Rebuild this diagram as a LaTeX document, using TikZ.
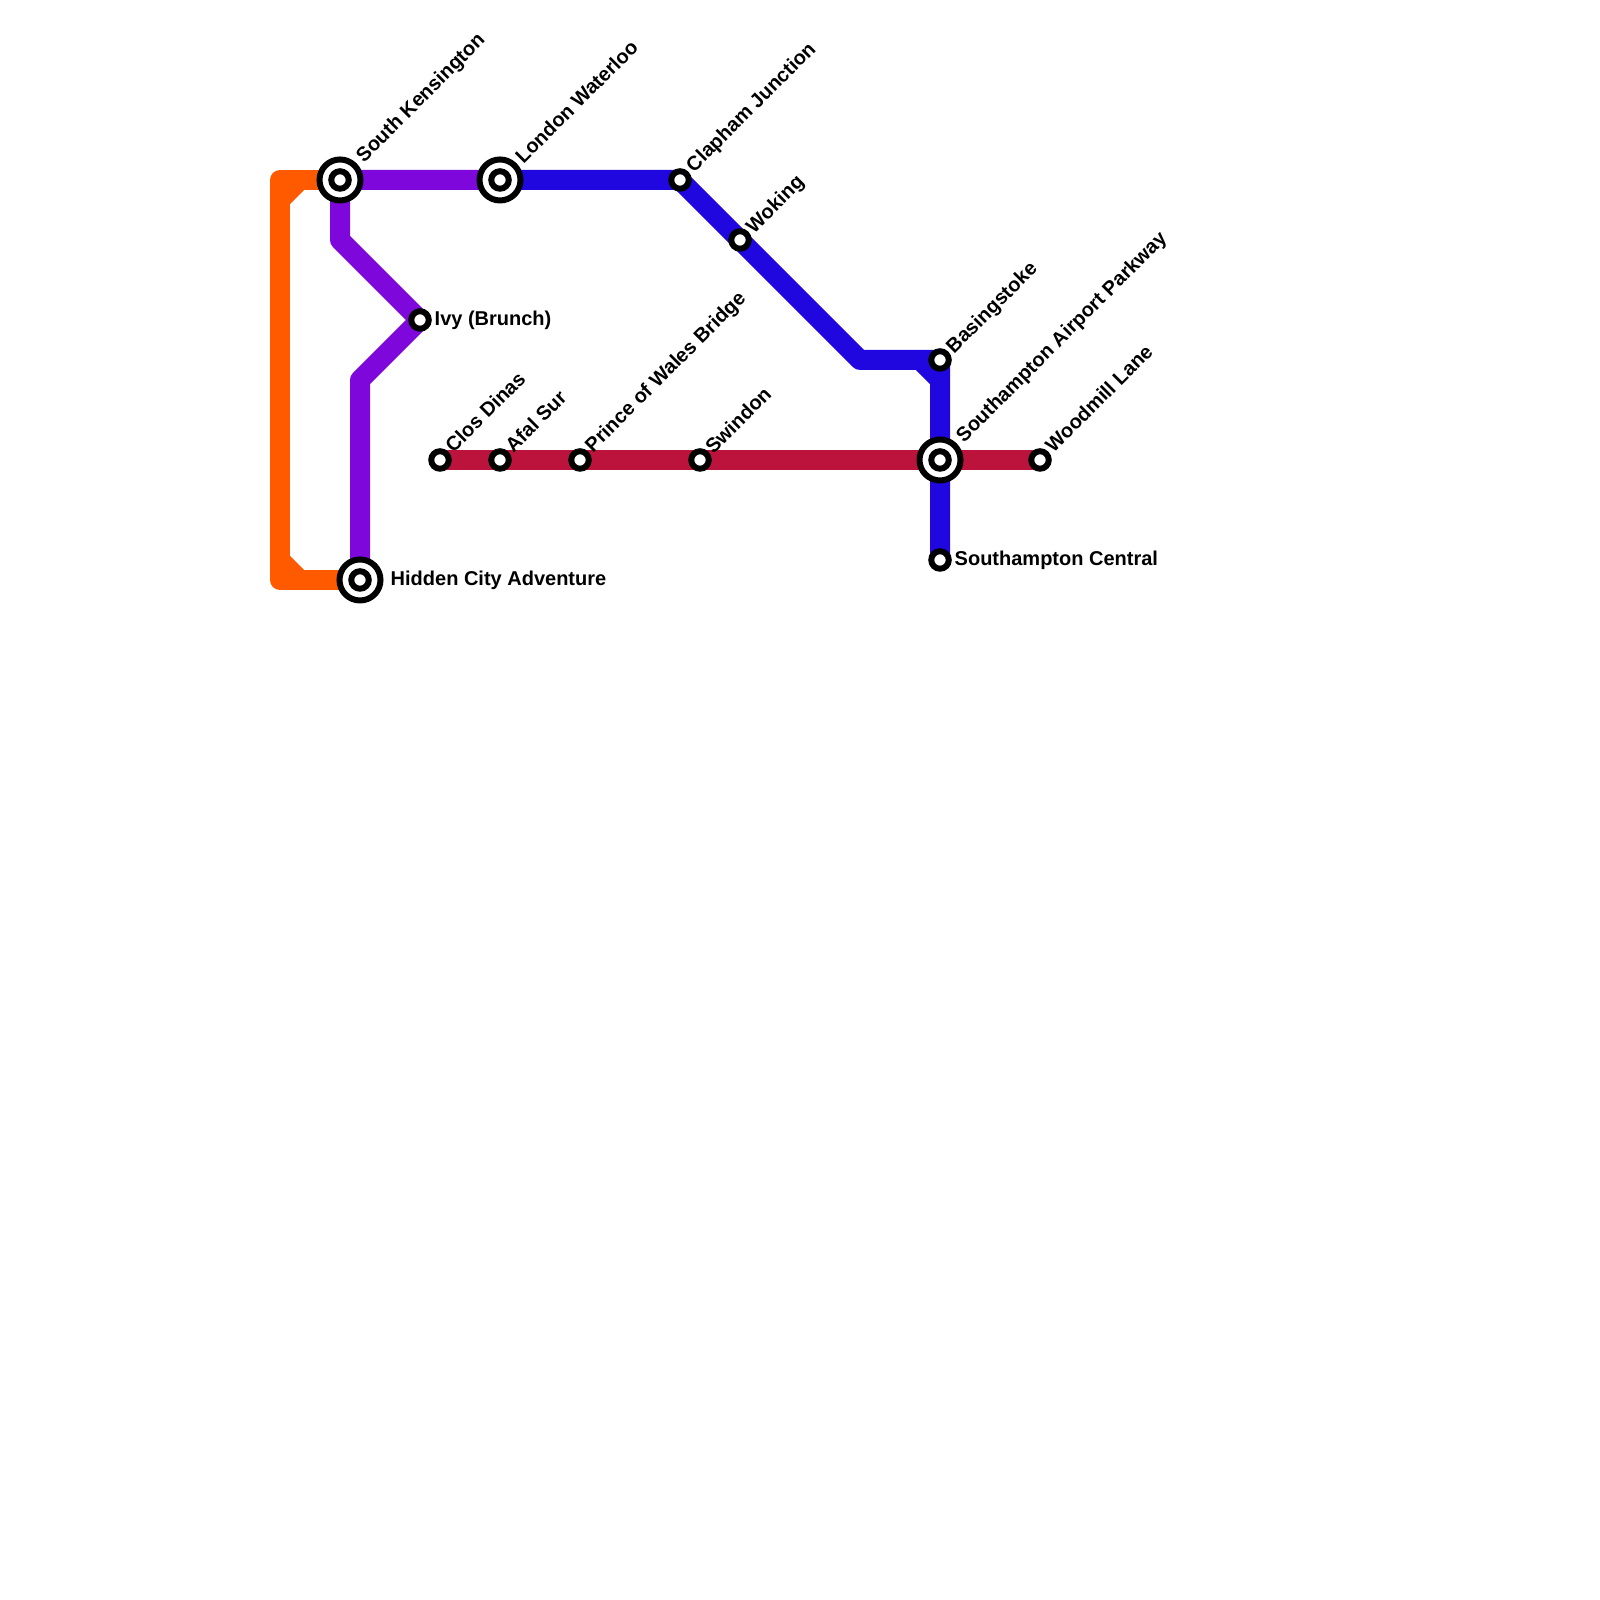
\documentclass[tikz,border=0pt]{standalone}
\usepackage{fontspec}
\setmainfont{Liberation Sans}
\usepackage{xcolor}
\usetikzlibrary{backgrounds}
\definecolor{lineorange}{HTML}{FF5A00}
\definecolor{linepurple}{HTML}{7E08DC}
\definecolor{lineblue}{HTML}{2107DF}
\definecolor{linered}{HTML}{BB133C}
\tikzset{
  stop/.style={circle,draw=black,fill=white,line width=0.06cm,minimum size=0.175cm,inner sep=0pt,outer sep=0pt},
  hub/.style={circle,draw=black,fill=white,line width=0.06cm,minimum size=0.41cm,inner sep=0pt,outer sep=0pt},
  route/.style={line width=0.2cm,line join=round},
  flattext/.style={font=\fontsize{5.69}{7}\selectfont\bfseries,inner sep=0pt,text=black,anchor=west},
  slanttext/.style={flattext,rotate=45}
}
\begin{document}
\begin{tikzpicture}
\useasboundingbox (0,0) rectangle (16,16);
% interchanges
\node[hub] (southken) at (3.4,14.2) {};
\node[stop] (southkenIn) at (3.4,14.2) {};
\node[hub] (waterloo) at (5,14.2) {};
\node[stop] (waterlooIn) at (5,14.2) {};
\node[hub] (hidden) at (3.6,10.2) {};
\node[stop] (hiddenIn) at (3.6,10.2) {};
\node[hub] (airport) at (9.4,11.4) {};
\node[stop] (airportIn) at (9.4,11.4) {};
% plain stops
\node[stop] (ivy) at (4.2,12.8) {};
\node[stop] (clapham) at (6.8,14.2) {};
\node[stop] (woking) at (7.4,13.6) {};
\node[stop] (basingstoke) at (9.4,12.4) {};
\node[stop] (central) at (9.4,10.4) {};
\node[stop] (closdinas) at (4.4,11.4) {};
\node[stop] (afalsur) at (5,11.4) {};
\node[stop] (prince) at (5.8,11.4) {};
\node[stop] (swindon) at (7,11.4) {};
\node[stop] (woodmill) at (10.4,11.4) {};
% bends
\coordinate (orangeTop) at (2.8,14.2);
\coordinate (orangeBot) at (2.8,10.2);
\coordinate (purpleA) at (3.4,13.6);
\coordinate (purpleB) at (3.6,12.2);
\coordinate (blueBend) at (8.6,12.4);
% lines
\begin{scope}[on background layer]
\draw[route,lineorange] (southken.center) -- (orangeTop) -- (orangeBot) -- (hidden.center);
\draw[route,lineorange] (3,14.2) -- (2.8,14);
\draw[route,lineorange] (2.8,10.4) -- (3,10.2);
\draw[route,linepurple] (waterloo.center) -- (southken.center) -- (purpleA) -- (ivy.center) -- (purpleB) -- (hidden.center);
\draw[route,lineblue] (waterloo.center) -- (clapham.center) -- (blueBend) -- (basingstoke.center) -- (central.center);
\draw[route,lineblue] (9.2,12.4) -- (9.4,12.2);
\draw[route,linered] (closdinas.center) -- (woodmill.center);
\end{scope}
% names
\node[slanttext] (southkenName) at (3.6,14.4) {South Kensington};
\node[slanttext] (waterlooName) at (5.18,14.4) {London Waterloo};
\node[slanttext] (claphamName) at (6.9,14.3) {Clapham Junction};
\node[slanttext] (wokingName) at (7.5,13.69) {Woking};
\node[slanttext] (basingstokeName) at (9.5,12.49) {Basingstoke};
\node[slanttext] (airportName) at (9.6,11.6) {Southampton Airport Parkway};
\node[slanttext] (woodmillName) at (10.48,11.51) {Woodmill Lane};
\node[slanttext] (closdinasName) at (4.48,11.51) {Clos Dinas};
\node[slanttext] (afalsurName) at (5.08,11.51) {Afal Sur};
\node[slanttext] (princeName) at (5.89,11.5) {Prince of Wales Bridge};
\node[slanttext] (swindonName) at (7.08,11.5) {Swindon};
\node[flattext] (ivyName) at (4.34,12.8) {Ivy (Brunch)};
\node[flattext] (hiddenName) at (3.9,10.2) {Hidden City Adventure};
\node[flattext] (centralName) at (9.54,10.4) {Southampton Central};
\end{tikzpicture}
\end{document}
